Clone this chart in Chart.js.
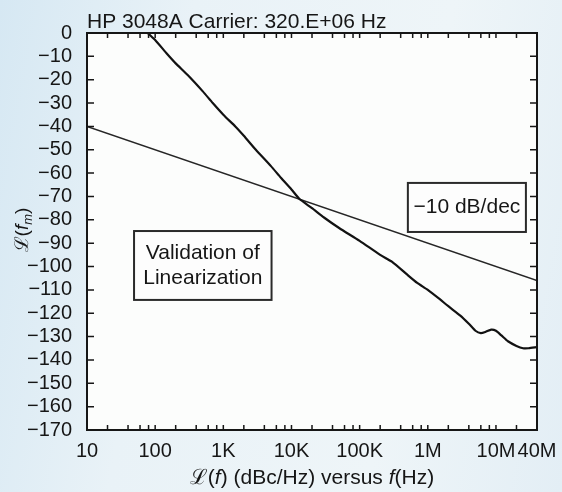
<!DOCTYPE html>
<html>
<head>
<meta charset="utf-8">
<script src="https://cdn.jsdelivr.net/npm/chart.js@4/dist/chart.umd.min.js"></script>
<style>
  html, body { margin: 0; padding: 0; }
  body {
    width: 562px; height: 492px; overflow: hidden;
    background: linear-gradient(100deg, #d6e8f3 0%, #e9f2f7 30%, #eef5f8 70%, #e3eef5 100%);
  }
  #wrap { position: relative; width: 562px; height: 492px; }
</style>
</head>
<body>
<div id="wrap"><canvas id="pn" width="562" height="492"></canvas></div>
<script>
// phase noise sweep, HP 3048A, carrier 320 MHz
var freqHz = [78, 100, 150, 200, 300, 500, 700, 1000, 1500, 2000, 3000, 5000, 7000,
  10000, 13000, 20000, 30000, 50000, 100000, 200000, 300000, 500000, 700000,
  1e6, 1.5e6, 2e6, 3e6, 4e6, 5e6, 6e6, 7e6, 8.5e6, 1e7, 1.2e7, 1.5e7, 2e7, 2.5e7, 3e7, 4e7];
var noiseDb = [0, -3, -9, -13, -18, -25, -30, -35, -40, -44, -50, -57, -62,
  -67, -71, -75, -79, -83.5, -89, -95, -98, -103.5, -107,
  -110, -114, -117, -121, -124.5, -127.5, -128.5, -128, -127, -127.5, -129.5, -132, -134, -135, -135, -134.5];

// -10 dB/dec reference line
var slopeHz = [10, 4e7];
var slopeDb = [-40, -106];

var xTicks = [10, 100, 1e3, 1e4, 1e5, 1e6, 1e7, 4e7];
var xTickText = ['10', '100', '1K', '10K', '100K', '1M', '10M', '40M'];
var minorMult = [2, 4, 6, 8, 10];

var FONT = "'Liberation Sans', Arial, Helvetica, sans-serif";
var INK = '#161616';

function pts(xs, ys) {
  return xs.map(function (x, i) { return { x: x, y: ys[i] }; });
}

function drawMixed(ctx, parts, x, y, size) {
  // parts: [text, italic]; x is the left start
  parts.forEach(function (p) {
    ctx.font = (p[1] ? 'italic ' : '') + size + 'px ' + FONT;
    ctx.fillText(p[0], x, y);
    x += ctx.measureText(p[0]).width;
  });
}

function mixedWidth(ctx, parts, size) {
  var w = 0;
  parts.forEach(function (p) {
    ctx.font = (p[1] ? 'italic ' : '') + size + 'px ' + FONT;
    w += ctx.measureText(p[0]).width;
  });
  return w;
}

var framePlugin = {
  id: 'frame',
  beforeDraw: function (chart) {
    var a = chart.chartArea, ctx = chart.ctx;
    ctx.save();
    ctx.fillStyle = '#fcfdfc';
    ctx.fillRect(a.left, a.top, a.right - a.left, a.bottom - a.top);
    ctx.restore();
  },
  afterDraw: function (chart) {
    var a = chart.chartArea, ctx = chart.ctx;
    var xs = chart.scales.x, ys = chart.scales.y;
    ctx.save();
    ctx.strokeStyle = INK;
    ctx.lineWidth = 2;
    ctx.strokeRect(a.left, a.top, a.right - a.left, a.bottom - a.top);

    // inward ticks on all four sides
    ctx.lineWidth = 1.5;
    ctx.beginPath();
    for (var k = 1; k <= 7; k++) {
      minorMult.forEach(function (m) {
        var v = m * Math.pow(10, k);
        if (v >= 4e7) return;
        var px = xs.getPixelForValue(v);
        ctx.moveTo(px, a.bottom); ctx.lineTo(px, a.bottom - 5);
        ctx.moveTo(px, a.top); ctx.lineTo(px, a.top + 5);
      });
    }
    for (var d = -160; d <= -10; d += 10) {
      var py = ys.getPixelForValue(d);
      ctx.moveTo(a.left, py); ctx.lineTo(a.left + 7, py);
      ctx.moveTo(a.right, py); ctx.lineTo(a.right - 7, py);
    }
    ctx.stroke();

    ctx.fillStyle = INK;
    ctx.textBaseline = 'alphabetic';

    // header
    ctx.textAlign = 'left';
    ctx.font = '21px ' + FONT;
    ctx.fillText('HP 3048A Carrier: 320.E+06 Hz', a.left, 28);

    // x axis title
    var xt = [['\u2112(', false], ['f', true], [') (dBc/Hz) versus ', false], ['f', true], ['(Hz)', false]];
    var w = mixedWidth(ctx, xt, 21);
    drawMixed(ctx, xt, (a.left + a.right) / 2 - w / 2, 484, 21);

    // y axis title, rotated
    ctx.save();
    ctx.translate(28, 230);
    ctx.rotate(-Math.PI / 2);
    var yt = [['\u2112(', false], ['f', true]];
    var w1 = mixedWidth(ctx, yt, 19);
    ctx.font = 'italic 13px ' + FONT;
    var wm = ctx.measureText('m').width;
    ctx.font = '19px ' + FONT;
    var wc = ctx.measureText(')').width;
    var x0 = -(w1 + wm + wc) / 2;
    drawMixed(ctx, yt, x0, 0, 19);
    ctx.font = 'italic 13px ' + FONT;
    ctx.fillText('m', x0 + w1, 4);
    ctx.font = '19px ' + FONT;
    ctx.fillText(')', x0 + w1 + wm, 0);
    ctx.restore();

    // annotation boxes, placed in axis units
    function box(f0, f1, d0, d1, lines) {
      var l = xs.getPixelForValue(f0), r = xs.getPixelForValue(f1);
      var t = ys.getPixelForValue(d0), b = ys.getPixelForValue(d1);
      ctx.fillStyle = '#fdfdfd';
      ctx.fillRect(l, t, r - l, b - t);
      ctx.strokeStyle = '#2a2a2a';
      ctx.lineWidth = 2;
      ctx.strokeRect(l, t, r - l, b - t);
      ctx.fillStyle = INK;
      ctx.font = '21px ' + FONT;
      ctx.textAlign = 'center';
      ctx.textBaseline = 'middle';
      var lh = 25;
      var cy = (t + b) / 2 - (lines.length - 1) * lh / 2;
      lines.forEach(function (s, i) { ctx.fillText(s, (l + r) / 2, cy + i * lh); });
    }
    box(49, 5100, -84.8, -114.3, ['Validation of', 'Linearization']);
    box(5.1e5, 2.75e7, -64.2, -85.2, ['\u221210 dB/dec']);
    ctx.restore();
  }
};

new Chart(document.getElementById('pn'), {
  type: 'scatter',
  data: {
    datasets: [{
      data: pts(freqHz, noiseDb),
      showLine: true,
      borderColor: '#121212',
      borderWidth: 2.2,
      pointRadius: 0,
      tension: 0.2
    }, {
      data: pts(slopeHz, slopeDb),
      showLine: true,
      borderColor: '#262626',
      borderWidth: 1.6,
      pointRadius: 0
    }]
  },
  options: {
    responsive: false,
    animation: false,
    layout: { padding: { left: 0, right: 25, top: 33, bottom: 0 } },
    plugins: { legend: { display: false }, tooltip: { enabled: false } },
    scales: {
      x: {
        type: 'logarithmic',
        min: 10,
        max: 4e7,
        grid: { display: false },
        border: { display: false },
        afterBuildTicks: function (s) { s.ticks = xTicks.map(function (v) { return { value: v }; }); },
        afterFit: function (s) { s.height = 62; },
        ticks: {
          autoSkip: false,
          maxRotation: 0,
          padding: 1,
          color: INK,
          font: { family: FONT, size: 20 },
          callback: function (v) { return xTickText[xTicks.indexOf(v)]; }
        }
      },
      y: {
        min: -170,
        max: 0,
        grid: { display: false },
        border: { display: false },
        afterFit: function (s) { s.width = 87; },
        ticks: {
          autoSkip: false,
          stepSize: 10,
          padding: 7,
          color: INK,
          font: { family: FONT, size: 20 },
          callback: function (v) { return v < 0 ? '\u2212' + Math.abs(v) : String(v); }
        }
      }
    }
  },
  plugins: [framePlugin]
});
</script>
</body>
</html>
